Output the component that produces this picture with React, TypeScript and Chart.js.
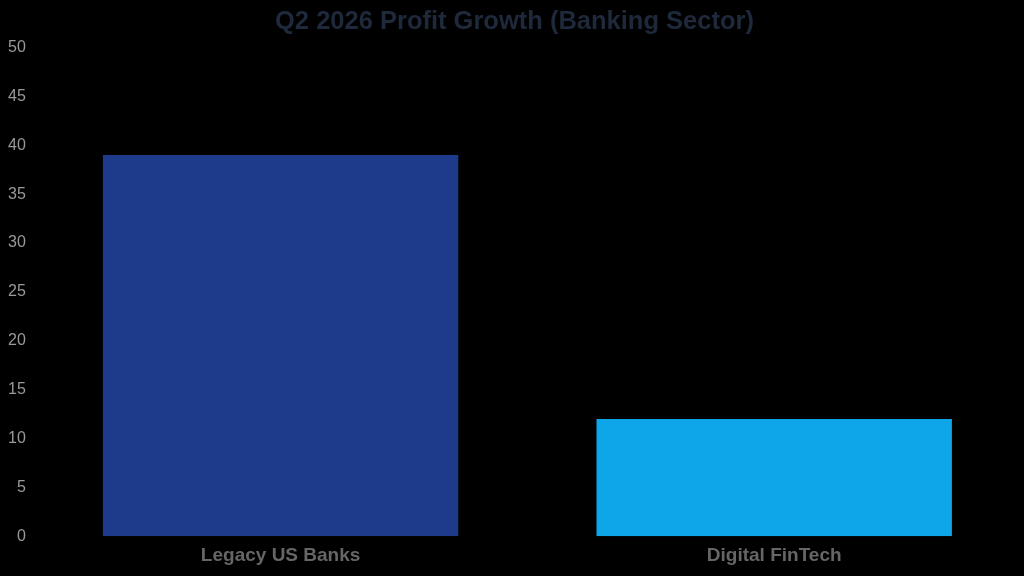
import React, { useEffect, useRef } from "react";
import { Chart, registerables } from "chart.js";

Chart.register(...registerables);

const categories = ["Legacy US Banks", "Digital FinTech"];
const profitGrowth = [39, 12];
const barColors = ["#1e3a8a", "#0ea5e9"];
const titleText = "Q2 2026 Profit Growth (Banking Sector)";
const FONT = "'Liberation Sans', Arial, sans-serif";

export default function App() {
  const ref = useRef<HTMLCanvasElement | null>(null);

  useEffect(() => {
    document.body.style.margin = "0";
    document.body.style.background = "#000";
    const ctx = ref.current!.getContext("2d")!;
    const chart = new Chart(ctx, {
      type: "bar",
      data: {
        labels: categories,
        datasets: [
          {
            label: "Profit Growth",
            data: profitGrowth,
            backgroundColor: barColors,
            borderWidth: 0,
          },
        ],
      },
      options: {
        animation: false,
        responsive: false,
        maintainAspectRatio: false,
        layout: { padding: { left: 8, right: 3, top: 0, bottom: 9 } },
        plugins: {
          legend: { display: false },
          tooltip: { enabled: false },
          title: {
            display: true,
            text: titleText,
            color: "#1e293b",
            font: { size: 25.5, weight: "bold", family: FONT },
            padding: { top: 7, bottom: 10 },
          },
        },
        scales: {
          x: {
            grid: { display: false },
            border: { display: false },
            ticks: {
              padding: 0,
              color: "#666",
              font: { size: 19, weight: "bold", family: FONT },
            },
          },
          y: {
            min: 0,
            max: 50,
            grid: { display: false },
            border: { display: false },
            ticks: {
              padding: 0,
              stepSize: 5,
              color: "#999",
              font: { size: 16, family: FONT },
            },
          },
        },
      },
    });
    return () => chart.destroy();
  }, []);

  return (
    <div style={{ width: 1024, height: 576, background: "#000" }}>
      <canvas ref={ref} width={1024} height={576} style={{ display: "block" }} />
    </div>
  );
}
